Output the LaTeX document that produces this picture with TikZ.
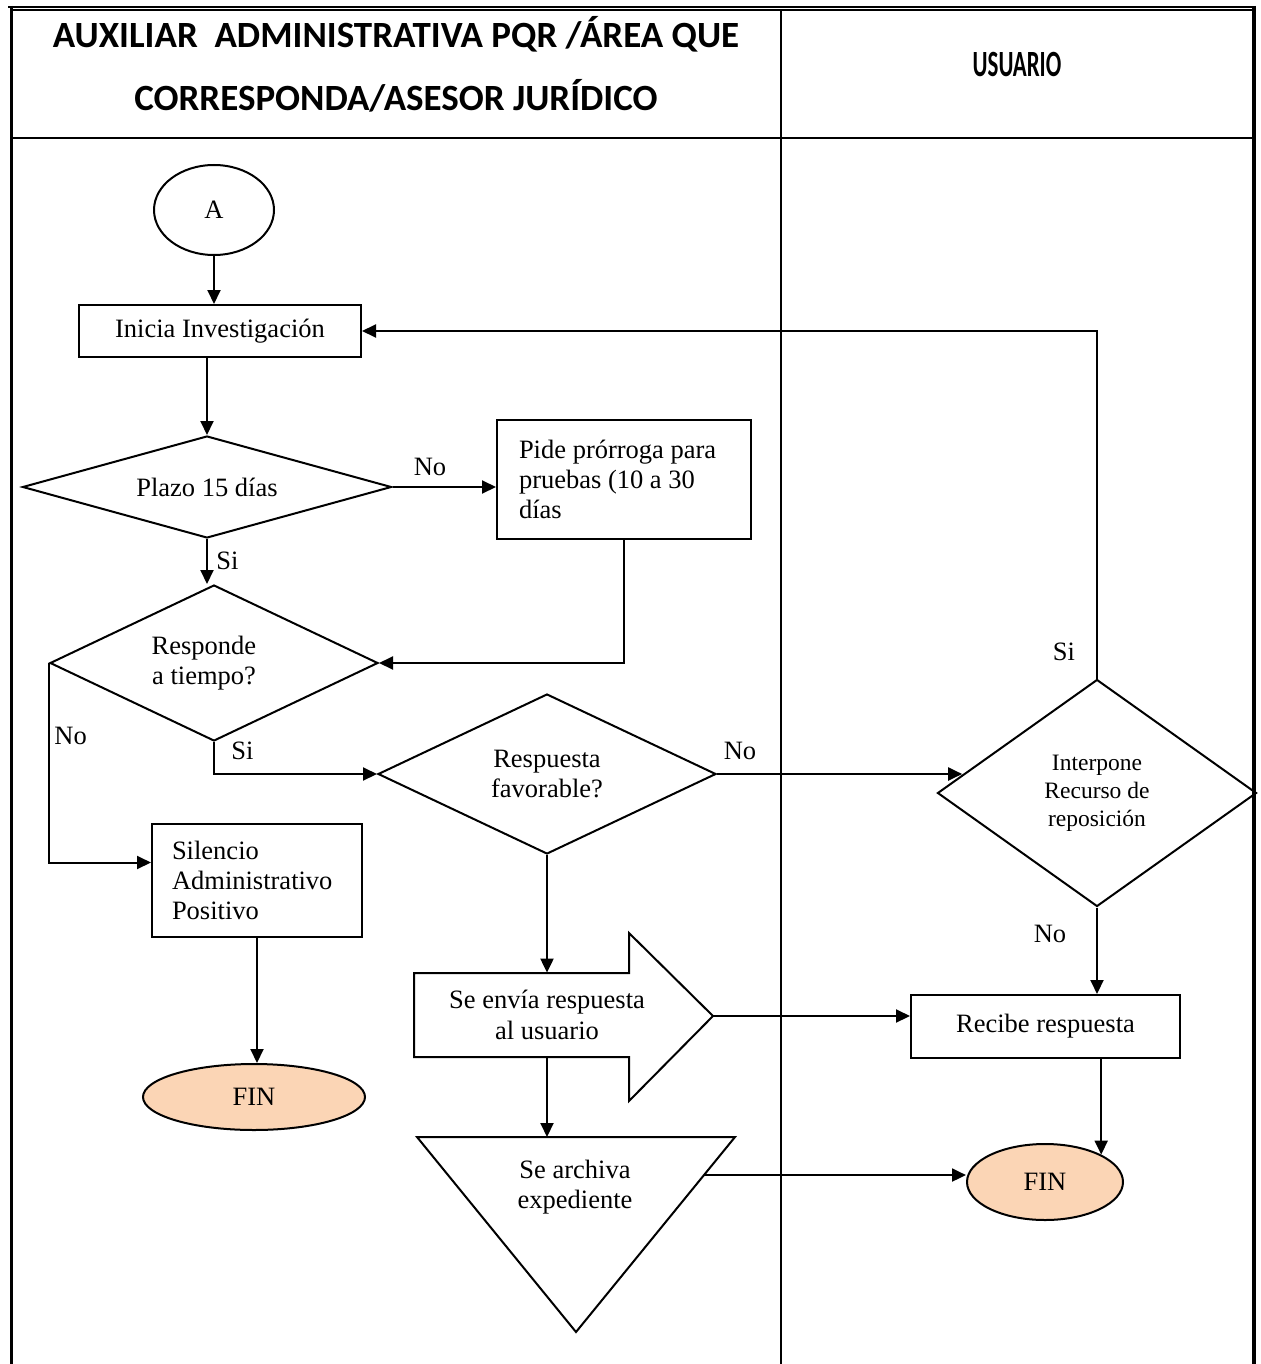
\documentclass[tikz,border=0pt]{standalone}
\usepackage{fontspec}
\setmainfont{Liberation Serif}
\newfontfamily\headfont{Carlito}
\newfontfamily\headnarrowfont{Carlito}[FakeStretch=0.62]
\usetikzlibrary{shapes.geometric,arrows.meta,calc}

\definecolor{finfill}{RGB}{251,213,181}

\tikzset{
  txt/.style={font=\fontsize{13.25}{15.2}\selectfont},
  smalltxt/.style={font=\fontsize{11.75}{14}\selectfont},
  box/.style={draw, rectangle, line width=1pt, inner sep=0pt, txt},
  decision/.style={draw, diamond, line width=1pt, inner sep=0pt, align=center, txt},
  terminal/.style={draw, ellipse, line width=1pt, inner sep=0pt, txt},
  finnode/.style={terminal, fill=finfill},
  flow/.style={line width=1pt, -{Triangle[length=7pt,width=6.5pt]}},
  lbl/.style={inner sep=0pt, txt},
  headtxt/.style={font=\headfont\bfseries\fontsize{18.5}{31.5}\selectfont, align=center},
  headnarrow/.style={font=\headnarrowfont\bfseries\fontsize{18.5}{31.5}\selectfont, align=center}
}

\begin{document}
\begin{tikzpicture}[x=0.5pt, y=-0.5pt]
  \useasboundingbox (0,0) rectangle (1261,1364);

  % swimlane frame
  \draw[line width=0.85pt] (8,6.8) -- (1256,6.8);
  \draw[line width=0.85pt] (12,10.2) -- (1254,10.2);
  \draw[line width=1.4pt] (11.5,6) -- (11.5,1364);
  \draw[line width=2.2pt] (1254,6) -- (1254,1364);
  \draw[line width=1.15pt] (11.5,138) -- (1254,138);
  \draw[line width=1pt] (781,10) -- (781,1364);

  % lane headers
  \node[headtxt] (h1) at (396,64) {AUXILIAR\ \ ADMINISTRATIVA PQR /ÁREA QUE\\CORRESPONDA/ASESOR JURÍDICO};
  \node[headnarrow] (h2) at (1017,65) {USUARIO};

  % left lane
  \node[terminal, minimum width=60pt, minimum height=45pt] (A) at (214,210) {A};
  \node[box, minimum width=141pt, minimum height=26pt] (inicia) at (220,331) {Inicia Investigación};
  \node[decision, minimum width=184.5pt, minimum height=51pt, shape aspect=3.6] (plazo) at (207,487) {Plazo 15 días};
  \node[box, minimum width=127pt, minimum height=59.5pt, text width=105pt, align=flush left] (pide) at (624,479.5)
    {Pide prórroga para\\pruebas (10 a 30\\días};
  \node[decision, minimum width=164pt, minimum height=78pt, shape aspect=2.1] (respo) at (214,663)
    {Responde\hspace*{10pt}\\a tiempo?\hspace*{10pt}};
  \node[box, minimum width=105pt, minimum height=56.5pt, text width=85pt, align=flush left] (silencio) at (257,880.5)
    {Silencio\\Administrativo\\Positivo};
  \node[finnode, minimum width=111pt, minimum height=33pt] (fin1) at (254,1097) {FIN};
  \node[decision, minimum width=169pt, minimum height=80pt, shape aspect=2.1] (resp) at (547,774)
    {Respuesta\\favorable?};

  % "Se envía respuesta" block arrow
  \draw[line width=1pt] (414,973) -- (629,973) -- (629,933) -- (713,1016) -- (629,1101)
    -- (629,1057) -- (414,1057) -- cycle;
  \coordinate (enviatip) at (713,1016);
  \node[lbl, align=center, minimum height=42pt] (envia) at (547,1015) {Se envía respuesta\\al usuario};

  % "Se archiva expediente" inverted triangle
  \coordinate (trl) at (417,1137);
  \coordinate (trr) at (735,1137);
  \coordinate (trb) at (576,1332);
  \draw[line width=1pt] (trl) -- (trr) -- (trb) -- cycle;
  \node[lbl, align=center] (archiva) at (575,1187) {Se archiva\\expediente};
  \coordinate (archout) at ($(trr)!0.195!(trb)$);

  % right lane
  \node[decision, smalltxt, minimum width=159.5pt, minimum height=113.5pt, shape aspect=1.4] (inter) at (1097,793)
    {Interpone\\Recurso de\\reposición};
  \coordinate (interin) at ($(inter.west)!0.16!(inter.north)$);
  \node[box, minimum width=134.5pt, minimum height=31.5pt] (recibe) at (1045.5,1026.5) {Recibe respuesta};
  \node[finnode, minimum width=78pt, minimum height=38pt] (fin2) at (1045,1182) {FIN};

  % connectors
  \draw[flow] (A.south) -- (A.south |- inicia.north);
  \draw[flow] (plazo.north |- inicia.south) -- (plazo.north);
  \draw[flow] (plazo.east) -- (plazo.east -| pide.west);
  \draw[flow] (plazo.south) -- (plazo.south |- respo.north);
  \draw[flow] (pide.south) |- (respo.east);
  \draw[flow] (respo.west) |- ($(silencio.west)+(0,-18)$);
  \draw[flow] (silencio.south) -- (silencio.south |- fin1.north);
  \draw[flow] (respo.south) |- (resp.west);
  \draw[flow] (resp.east) -- (resp.east -| interin);
  \draw[flow] (inter.north) |- (inicia.east);
  \draw[flow] (inter.south) -- (inter.south |- recibe.north);
  \draw[flow] (resp.south) -- (envia.north);
  \draw[flow] (enviatip) -- (enviatip -| recibe.west);
  \draw[flow] (envia.south) -- (envia.south |- trl);
  \draw[flow] (archout) -- (archout -| fin2.west);
  \draw[flow] (fin2.26 |- recibe.south) -- (fin2.26);

  % branch labels
  \node[lbl] (lno1) at (430,467) {No};
  \node[lbl, anchor=west] (lsi1) at (216,561) {Si};
  \node[lbl, anchor=west] (lno2) at (54,736) {No};
  \node[lbl, anchor=west] (lsi2) at (231,751) {Si};
  \node[lbl] (lno3) at (740,751) {No};
  \node[lbl] (lsi3) at (1064,652) {Si};
  \node[lbl] (lno4) at (1050,934) {No};
\end{tikzpicture}
\end{document}
